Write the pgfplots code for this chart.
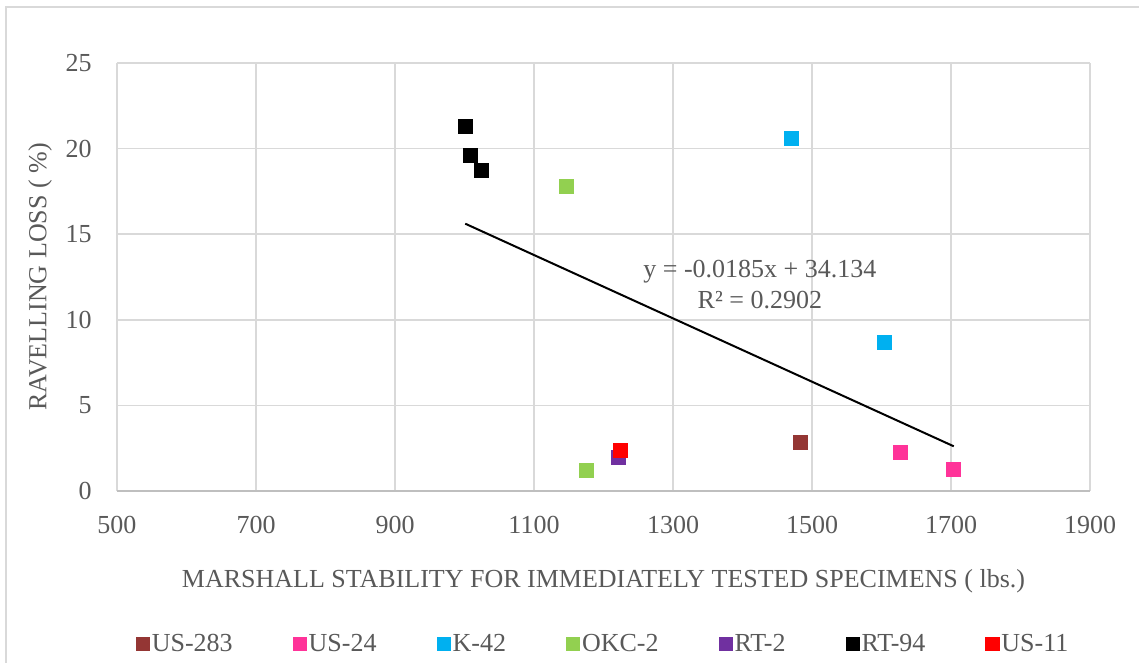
\documentclass[border=0pt]{standalone}
\usepackage{fontspec}
\setmainfont{Liberation Serif}
\usepackage{pgfplots}
\pgfplotsset{compat=1.18}
\definecolor{txt}{HTML}{595959}
\definecolor{gridc}{HTML}{D9D9D9}
\definecolor{axc}{HTML}{BFBFBF}
\definecolor{cUSa}{HTML}{943634}
\definecolor{cUSb}{HTML}{FF3399}
\definecolor{cK}{HTML}{00B0F0}
\definecolor{cOKC}{HTML}{92D050}
\definecolor{cRT}{HTML}{7030A0}
\definecolor{cRTb}{HTML}{000000}
\definecolor{cUSc}{HTML}{FF0000}
\begin{document}
\begin{tikzpicture}[x=1pt,y=1pt]
\useasboundingbox (-58.5,-86) rectangle (511,245.5);
\draw[gridc, line width=0.75pt] (-55.5,-90) -- (-55.5,242) -- (515,242);
\begin{axis}[
  at={(0,0)}, anchor=south west,
  scale only axis, width=486.5pt, height=214pt,
  xmin=500, xmax=1900, ymin=0, ymax=25,
  xtick={500,700,...,1900}, ytick={0,5,...,25},
  grid=major, major grid style={gridc, line width=0.75pt},
  axis line style={draw=none}, major tick length=0pt,
  /pgf/number format/assume math mode=true,
  /pgf/number format/1000 sep={},
  tick label style={font=\fontsize{13}{15.5}\selectfont, text=txt, inner sep=0pt},
  xticklabel style={anchor=north, yshift=-12.5pt},
  yticklabel style={anchor=east, xshift=-12.5pt},
  xlabel={MARSHALL STABILITY FOR IMMEDIATELY TESTED SPECIMENS ( lbs.)},
  ylabel={RAVELLING LOSS ( \%)},
  xlabel style={at={(axis description cs:0.5,0)}, anchor=center, yshift=-45pt, font=\fontsize{13}{15.5}\selectfont, text=txt, inner sep=0pt},
  ylabel style={at={([xshift=-38.5pt]axis description cs:0,0.5)}, anchor=center, font=\fontsize{13}{15.5}\selectfont, text=txt, inner sep=0pt},
  legend columns=7,
  legend style={at={(axis description cs:0.5,0)}, anchor=center, yshift=-76.5pt, draw=none, fill=none,
    font=\fontsize{13}{15.5}\selectfont, text=txt, column sep=0pt,
    nodes={inner sep=1.2pt},
    /tikz/every even column/.append style={column sep=29pt}},
  legend cell align=left,
  legend image code/.code={\draw[#1, mark size=3.3pt] plot coordinates {(3.3pt,0pt)};},
  clip=false,
]
\draw[axc, line width=0.9pt] (axis cs:500,0) -- (axis cs:1900,0);
\addplot[only marks, mark=square*, mark size=3.5pt, draw=cUSa, fill=cUSa] coordinates {(1483,2.82)};
\addlegendentry{US-283}
\addplot[only marks, mark=square*, mark size=3.5pt, draw=cUSb, fill=cUSb] coordinates {(1627,2.28) (1704,1.28)};
\addlegendentry{US-24}
\addplot[only marks, mark=square*, mark size=3.5pt, draw=cK, fill=cK] coordinates {(1470,20.6) (1604,8.7)};
\addlegendentry{K-42}
\addplot[only marks, mark=square*, mark size=3.5pt, draw=cOKC, fill=cOKC] coordinates {(1147,17.8) (1175,1.23)};
\addlegendentry{OKC-2}
\addplot[only marks, mark=square*, mark size=3.5pt, draw=cRT, fill=cRT] coordinates {(1222,1.99)};
\addlegendentry{RT-2}
\addplot[only marks, mark=square*, mark size=3.5pt, draw=cRTb, fill=cRTb] coordinates {(1001,21.3) (1009,19.6) (1024,18.7)};
\addlegendentry{RT-94}
\addplot[only marks, mark=square*, mark size=3.5pt, draw=cUSc, fill=cUSc] coordinates {(1225,2.4)};
\addlegendentry{US-11}
\addplot[black, line width=1pt, forget plot] coordinates {(1001,15.6155) (1704,2.61)};
\node[font=\fontsize{13}{15.5}\selectfont, text=txt, align=center, inner sep=0pt] at (axis cs:1425,12.05) {y = -0.0185x + 34.134\\R² = 0.2902};
\end{axis}
\end{tikzpicture}
\end{document}
